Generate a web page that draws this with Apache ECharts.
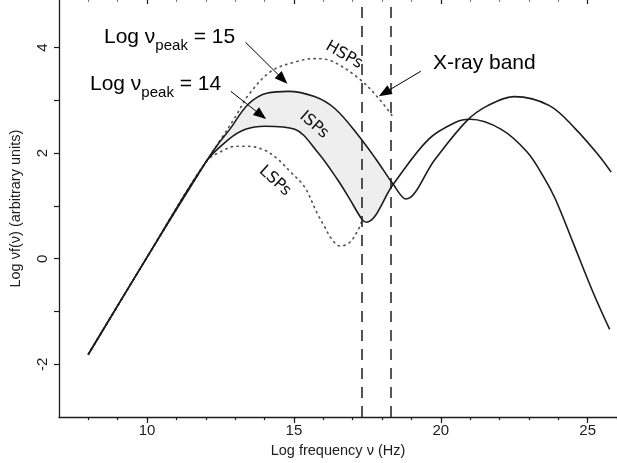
<!DOCTYPE html>
<html>
<head>
<meta charset="utf-8">
<script src="https://cdn.jsdelivr.net/npm/echarts@6/dist/echarts.min.js"></script>
<style>
  html, body { margin: 0; padding: 0; background: #fff; }
  #main { width: 617px; height: 463px; }
</style>
</head>
<body>
<div id="main"></div>
<script>
// curves, [log nu, log nu f(nu)]
const isp15 = [[8, -1.81], [10, 0.03], [12, 1.83], [12.4, 2.16], [12.8, 2.44], [13.45, 2.93], [14.1, 3.14], [14.8, 3.17],
  [15.7, 3.07], [16.4, 2.84], [17.2, 2.33], [17.8, 1.88], [18.38, 1.41], [18.81, 1.13], [19.8, 1.88],
  [20.9, 2.62], [21.6, 2.9], [22.5, 3.07], [23.7, 2.9], [24.6, 2.45], [25.4, 1.94], [25.8, 1.64]];
const isp14 = [[8, -1.81], [10, 0.03], [12, 1.83], [12.78, 2.26], [13.35, 2.45], [14.02, 2.51], [15.03, 2.45],
  [15.8, 2.02], [16.47, 1.51], [16.9, 1.13], [17.31, 0.75], [17.47, 0.69], [18.38, 1.41], [19.58, 2.26],
  [20.49, 2.58], [21.0, 2.64], [22.06, 2.45], [22.94, 2.02], [23.5, 1.55], [23.9, 1.13], [24.5, 0.31],
  [25.18, -0.63], [25.75, -1.34]];
const hsp = [[8, -1.81], [10, 0.03], [12, 1.83], [12.51, 2.26], [13.02, 2.7], [13.45, 3.1], [14.22, 3.55],
  [15.13, 3.74], [15.7, 3.79], [16.3, 3.74], [17.24, 3.4], [17.91, 3.02], [18.38, 2.68]];
const lsp = [[8, -1.81], [10, 0.03], [12, 1.83], [12.55, 2.04], [13.02, 2.13], [13.45, 2.13], [14.02, 2.05],
  [14.46, 1.88], [14.89, 1.64], [15.36, 1.36], [15.8, 0.85], [16.05, 0.6], [16.25, 0.4], [16.57, 0.24],
  [16.9, 0.31], [17.2, 0.56], [17.31, 0.71]];
// the shaded ISP band: upper and lower edges up to where they cross
const bandTop = isp15.slice(2, 13);
const bandBottom = isp14.slice(2, 13);
const xrayBand = [17.3, 18.3];

const xMinorTicks = [8, 9, 10, 11, 12, 13, 14, 15, 16, 17, 18, 19, 20, 21, 22, 23, 24, 25, 26];
const xMajorTicks = [10, 15, 20, 25];
const yTicks = [-2, -1, 0, 1, 2, 3, 4];
const yLabels = [-2, 0, 2, 4];

const ink = '#1c1c1c';
const chart = echarts.init(document.getElementById('main'), null, { renderer: 'canvas' });

function curve(name, data, dotted) {
  return {
    name: name, type: 'line', data: data, smooth: 0.35, showSymbol: false, z: 3, silent: true,
    lineStyle: dotted
      ? { color: '#555', width: 1.7, type: [1.2, 4.6], cap: 'round' }
      : { color: ink, width: 1.6 }
  };
}

const baseX = { type: 'value', min: 7, max: 26, gridIndex: 0, z: 5 };

chart.setOption({
  animation: false,
  backgroundColor: '#fff',
  textStyle: { fontFamily: 'Liberation Sans' },
  grid: { left: 57, top: 0, width: 567, height: 417.5 },
  xAxis: [
    Object.assign({}, baseX, {
      position: 'bottom',
      name: 'Log frequency ν (Hz)', nameLocation: 'middle', nameGap: 22,
      nameTextStyle: { fontSize: 14.5, color: ink },
      axisLine: { show: true, onZero: false, lineStyle: { color: ink, width: 1.3 } },
      axisTick: { show: true, length: 3, customValues: xMinorTicks, lineStyle: { color: ink, width: 1.2 } },
      axisLabel: { customValues: xMajorTicks, fontSize: 15, color: ink, margin: 6 },
      splitLine: { show: false }
    }),
    Object.assign({}, baseX, {
      position: 'bottom',
      axisLine: { show: false, onZero: false },
      axisTick: { show: true, length: 6, customValues: xMajorTicks, lineStyle: { color: ink, width: 1.2 } },
      axisLabel: { show: false }, splitLine: { show: false }
    }),
    Object.assign({}, baseX, {
      position: 'top',
      axisLine: { show: false, onZero: false },
      axisTick: { show: true, inside: true, length: 2, customValues: xMinorTicks, lineStyle: { color: '#777', width: 1 } },
      axisLabel: { show: false }, splitLine: { show: false }
    }),
    Object.assign({}, baseX, {
      position: 'top',
      axisLine: { show: false, onZero: false },
      axisTick: { show: true, inside: true, length: 4, customValues: xMajorTicks, lineStyle: { color: ink, width: 1.2 } },
      axisLabel: { show: false }, splitLine: { show: false }
    })
  ],
  yAxis: {
    type: 'value', min: -3, max: 4.9, z: 5,
    name: 'Log νf(ν) (arbitrary units)', nameLocation: 'middle', nameGap: 36,
    nameTextStyle: { fontSize: 14.5, color: ink },
    axisLine: { show: true, onZero: false, lineStyle: { color: ink, width: 1.3 } },
    axisTick: { show: true, length: 5, customValues: yTicks, lineStyle: { color: ink, width: 1.2 } },
    axisLabel: { customValues: yLabels, rotate: 90, fontSize: 15, color: ink, margin: 9 },
    splitLine: { show: false }
  },
  series: [
    {
      name: 'band', type: 'line', data: bandTop, smooth: 0.35, showSymbol: false, z: 1, silent: true,
      lineStyle: { width: 0 }, areaStyle: { color: '#eeeeee', opacity: 1, origin: 'start' }
    },
    {
      name: 'bandCut', type: 'line', data: bandBottom, smooth: 0.35, showSymbol: false, z: 2, silent: true,
      lineStyle: { width: 0 }, areaStyle: { color: '#ffffff', opacity: 1, origin: 'start' }
    },
    curve('LSPs', lsp, true),
    curve('HSPs', hsp, true),
    curve('ISP 14', isp14, false),
    Object.assign(curve('ISP 15', isp15, false), {
      markLine: {
        silent: true, symbol: ['none', 'none'], label: { show: false },
        lineStyle: { color: ink, width: 1.5, type: [11, 8] },
        data: xrayBand.map(v => ({ xAxis: v }))
      }
    }),
    {
      name: 'arrows', type: 'line', data: [], z: 4, silent: true,
      markLine: {
        silent: true, label: { show: false }, animation: false,
        lineStyle: { color: '#000', width: 1, type: 'solid' },
        data: [
          [{ coord: [13.35, 4.1], symbol: 'none' }, { coord: [14.62, 3.4], symbol: 'triangle', symbolSize: [10, 13] }],
          [{ coord: [12.85, 3.17], symbol: 'none' }, { coord: [13.88, 2.72], symbol: 'triangle', symbolSize: [10, 13] }],
          [{ coord: [19.32, 3.55], symbol: 'none' }, { coord: [18.08, 3.14], symbol: 'triangle', symbolSize: [10, 13] }]
        ]
      }
    }
  ],
  graphic: [
    {
      type: 'text', left: 104, top: 27, z: 10, silent: true,
      style: {
        text: '{a|Log ν}{b|peak}{a| = 15}',
        rich: {
          a: { fontFamily: 'Liberation Sans', fontSize: 21, lineHeight: 26, verticalAlign: 'top', fill: '#000' },
          b: { fontFamily: 'Liberation Sans', fontSize: 15, lineHeight: 14, padding: [11, 0, 0, 0], verticalAlign: 'top', fill: '#000' }
        }
      }
    },
    {
      type: 'text', left: 90, top: 74, z: 10, silent: true,
      style: {
        text: '{a|Log ν}{b|peak}{a| = 14}',
        rich: {
          a: { fontFamily: 'Liberation Sans', fontSize: 21, lineHeight: 26, verticalAlign: 'top', fill: '#000' },
          b: { fontFamily: 'Liberation Sans', fontSize: 15, lineHeight: 14, padding: [11, 0, 0, 0], verticalAlign: 'top', fill: '#000' }
        }
      }
    },
    {
      type: 'text', left: 433, top: 53, z: 10, silent: true,
      style: { text: 'X-ray band', fontFamily: 'Liberation Sans', fontSize: 21, fill: '#000' }
    },
    {
      type: 'text', x: 344, y: 55, rotation: -0.52, z: 10, silent: true,
      style: { text: 'HSPs', fontFamily: 'DejaVu Sans', fontSize: 16, fill: '#111', align: 'center', verticalAlign: 'middle' }
    },
    {
      type: 'text', x: 314, y: 125, rotation: -0.72, z: 10, silent: true,
      style: { text: 'ISPs', fontFamily: 'DejaVu Sans', fontSize: 16, fill: '#111', align: 'center', verticalAlign: 'middle' }
    },
    {
      type: 'text', x: 275, y: 181, rotation: -0.74, z: 10, silent: true,
      style: { text: 'LSPs', fontFamily: 'DejaVu Sans', fontSize: 16, fill: '#111', align: 'center', verticalAlign: 'middle' }
    }
  ]
});
</script>
</body>
</html>
